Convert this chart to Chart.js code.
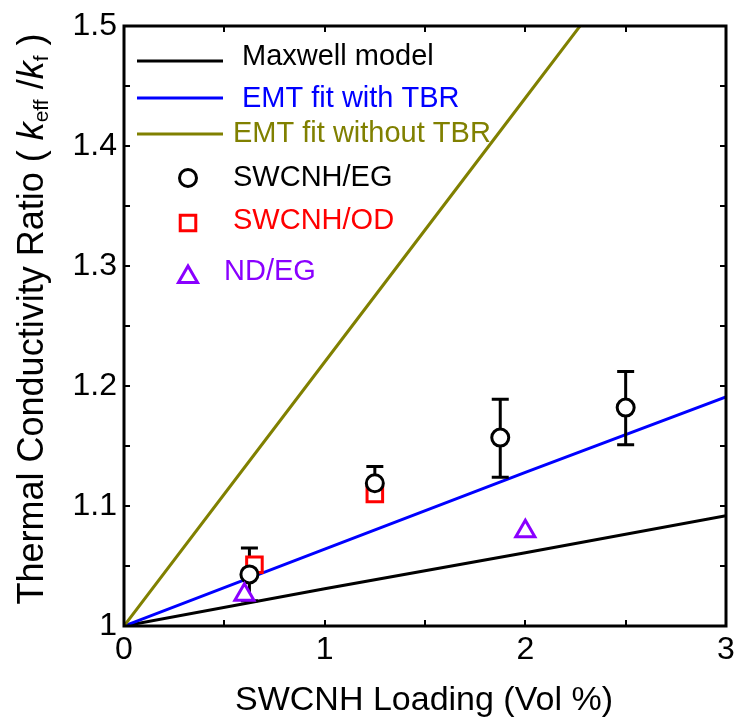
<!DOCTYPE html>
<html>
<head>
<meta charset="utf-8">
<script src="https://cdn.jsdelivr.net/npm/chart.js@4/dist/chart.umd.min.js"></script>
<style>
  html, body { margin: 0; padding: 0; background: #ffffff; }
  #wrap { width: 735px; height: 721px; }
</style>
</head>
<body>
<div id="wrap"><canvas id="chart" width="735" height="721"></canvas></div>
<script>
// Model curves (loading in vol %, ratio k_eff / k_f)
const modelX     = [0, 1, 2, 3];
const maxwellY   = [1, 1.031, 1.061, 1.092];
const emtTbrY    = [1, 1.064, 1.128, 1.191];
const emtNoTbrY  = [1, 1.22, 1.44, 1.66];

// Measurements
const egX        = [0.625, 1.25, 1.875, 2.5];
const egY        = [1.043, 1.119, 1.157, 1.182];
const egErrUp    = [0.022, 0.014, 0.032, 0.030];
const egErrDown  = [0.022, 0.014, 0.033, 0.031];

const odX        = [0.65, 1.25];
const odY        = [1.051, 1.110];

const ndX        = [0.6, 2.0];
const ndY        = [1.026, 1.079];

// Axis tick labels
const xTickLabels = ['0', '1', '2', '3'];
const yTickLabels = ['1', '1.1', '1.2', '1.3', '1.4', '1.5'];

const FONT = '"Liberation Sans", Arial, Helvetica, sans-serif';
const OLIVE = '#808000';
const PURPLE = '#8a00ff';

const pts = (xs, ys) => xs.map((x, i) => ({ x: x, y: ys[i] }));

function lineSet(label, xs, ys, color, order) {
  return {
    label: label, data: pts(xs, ys), borderColor: color, borderWidth: 3,
    pointRadius: 0, showLine: true, fill: false, tension: 0, order: order
  };
}
function markerSet(label, xs, ys, color, style, r, order) {
  return {
    label: label, data: pts(xs, ys), showLine: false,
    pointStyle: style, pointRadius: r, pointHoverRadius: r,
    pointBorderWidth: 3, pointBorderColor: color, pointBackgroundColor: '#ffffff',
    borderColor: color, backgroundColor: '#ffffff', order: order
  };
}

const datasets = [
  markerSet('ND/EG', ndX, ndY, PURPLE, 'triangle', 11, 0),
  markerSet('SWCNH/EG', egX, egY, '#000000', 'circle', 8.5, 1),
  markerSet('SWCNH/OD', odX, odY, '#ff0000', 'rect', 11, 2),
  lineSet('EMT fit without TBR', modelX, emtNoTbrY, OLIVE, 3),
  lineSet('EMT fit with TBR', modelX, emtTbrY, '#0000ff', 4),
  lineSet('Maxwell model', modelX, maxwellY, '#000000', 5)
];

// Error bars on the SWCNH/EG points, painted just under the square markers
function drawErrorBars(chart) {
  const ctx = chart.ctx, xs = chart.scales.x, ys = chart.scales.y;
  ctx.save();
  ctx.strokeStyle = '#000000';
  ctx.lineWidth = 3;
  egX.forEach((x, i) => {
    const px = xs.getPixelForValue(x);
    const top = ys.getPixelForValue(egY[i] + egErrUp[i]);
    const bot = ys.getPixelForValue(egY[i] - egErrDown[i]);
    ctx.beginPath();
    ctx.moveTo(px, top); ctx.lineTo(px, bot);
    ctx.moveTo(px - 8.5, top); ctx.lineTo(px + 8.5, top);
    ctx.moveTo(px - 8.5, bot); ctx.lineTo(px + 8.5, bot);
    ctx.stroke();
  });
  ctx.restore();
}

function drawFrameAndTicks(chart) {
  const ctx = chart.ctx, a = chart.chartArea, xs = chart.scales.x, ys = chart.scales.y;
  const len = 6;
  ctx.save();
  ctx.strokeStyle = '#000000';
  ctx.lineWidth = 2;
  ctx.beginPath();
  for (let v = 0; v <= 3.0001; v += 0.5) {
    const px = Math.round(xs.getPixelForValue(v));
    ctx.moveTo(px, a.bottom); ctx.lineTo(px, a.bottom - len);
    ctx.moveTo(px, a.top); ctx.lineTo(px, a.top + len);
  }
  for (let k = 0; k <= 10; k++) {
    const py = Math.round(ys.getPixelForValue(1 + k * 0.05));
    ctx.moveTo(a.left, py); ctx.lineTo(a.left + len, py);
    ctx.moveTo(a.right, py); ctx.lineTo(a.right - len, py);
  }
  ctx.stroke();
  ctx.lineWidth = 3;
  ctx.strokeRect(a.left, a.top, a.right - a.left, a.bottom - a.top);
  ctx.restore();
}

function drawLegend(chart) {
  const ctx = chart.ctx;
  ctx.save();
  ctx.font = '29px ' + FONT;
  ctx.textBaseline = 'middle';
  ctx.textAlign = 'left';
  const lines = [
    ['Maxwell model', '#000000', 61, 242, 57],
    ['EMT fit with TBR', '#0000ff', 98, 242, 99],
    ['EMT fit without TBR', OLIVE, 134, 233, 134]
  ];
  lines.forEach(([t, c, ly, tx, ty]) => {
    ctx.strokeStyle = c; ctx.lineWidth = 3;
    ctx.beginPath(); ctx.moveTo(137, ly); ctx.lineTo(223, ly); ctx.stroke();
    ctx.fillStyle = c; ctx.fillText(t, tx, ty);
  });
  const mk = [
    ['SWCNH/EG', '#000000', 'circle', 8.5, 178, 233, 178],
    ['SWCNH/OD', '#ff0000', 'rect', 11, 223, 233, 221],
    ['ND/EG', PURPLE, 'triangle', 11, 277, 224, 272]
  ];
  mk.forEach(([t, c, style, r, my, tx, ty]) => {
    ctx.strokeStyle = c; ctx.fillStyle = '#ffffff'; ctx.lineWidth = 3;
    Chart.helpers.drawPoint(ctx, { pointStyle: style, radius: r, borderWidth: 3, rotation: 0 }, 188, my);
    ctx.fillStyle = c; ctx.fillText(t, tx, ty);
  });
  ctx.restore();
}

function drawYTitle(chart) {
  const ctx = chart.ctx, a = chart.chartArea;
  const base = '36px ' + FONT, ital = 'italic 36px ' + FONT, sub = '21px ' + FONT;
  const parts = [
    ['Thermal Conductivity Ratio ( ', base, 0],
    ['k', ital, 0], ['eff', sub, 5],
    [' /', base, 0],
    ['k', ital, 0], ['f', sub, 5],
    [' )', base, 0]
  ];
  ctx.save();
  let total = 0;
  parts.forEach(p => { ctx.font = p[1]; total += ctx.measureText(p[0]).width; });
  const cy = (a.top + a.bottom) / 2 - 7;
  ctx.translate(43, cy + total / 2);
  ctx.rotate(-Math.PI / 2);
  ctx.fillStyle = '#000000';
  ctx.textBaseline = 'alphabetic';
  ctx.textAlign = 'left';
  let x = 0;
  parts.forEach(([t, f, dy]) => {
    ctx.font = f;
    ctx.fillText(t, x, dy);
    x += ctx.measureText(t).width;
  });
  ctx.restore();
}

function drawXTitle(chart) {
  const ctx = chart.ctx, a = chart.chartArea;
  ctx.save();
  ctx.font = '34px ' + FONT;
  ctx.fillStyle = '#000000';
  ctx.textAlign = 'center';
  ctx.textBaseline = 'alphabetic';
  ctx.fillText('SWCNH Loading (Vol %)', (a.left + a.right) / 2 - 1, 710);
  ctx.restore();
}

const decor = {
  id: 'decor',
  beforeDatasetDraw(chart, args) {
    if (chart.data.datasets[args.index].label === 'SWCNH/OD') drawErrorBars(chart);
  },
  afterDraw(chart) {
    drawFrameAndTicks(chart);
    drawLegend(chart);
    drawYTitle(chart);
    drawXTitle(chart);
  }
};

new Chart(document.getElementById('chart'), {
  type: 'line',
  data: { datasets: datasets },
  plugins: [decor],
  options: {
    responsive: false,
    devicePixelRatio: 1,
    animation: false,
    layout: { autoPadding: false, padding: { left: 0, right: 9, top: 26, bottom: 0 } },
    plugins: { legend: { display: false }, tooltip: { enabled: false } },
    scales: {
      x: {
        type: 'linear', min: 0, max: 3,
        grid: { display: false, drawTicks: false },
        border: { display: false },
        ticks: {
          stepSize: 1, padding: 5, color: '#000000',
          font: { family: FONT, size: 32 },
          callback: (v, i) => xTickLabels[i]
        },
        afterFit(s) { s.height = 95; s.paddingLeft = 0; s.paddingRight = 0; }
      },
      y: {
        type: 'linear', min: 1, max: 1.5,
        grid: { display: false, drawTicks: false },
        border: { display: false },
        ticks: {
          stepSize: 0.1, padding: 7, color: '#000000',
          font: { family: FONT, size: 32 },
          callback: (v, i) => yTickLabels[i]
        },
        afterFit(s) { s.width = 124; s.paddingTop = 0; s.paddingBottom = 0; }
      }
    }
  }
});
</script>
</body>
</html>
